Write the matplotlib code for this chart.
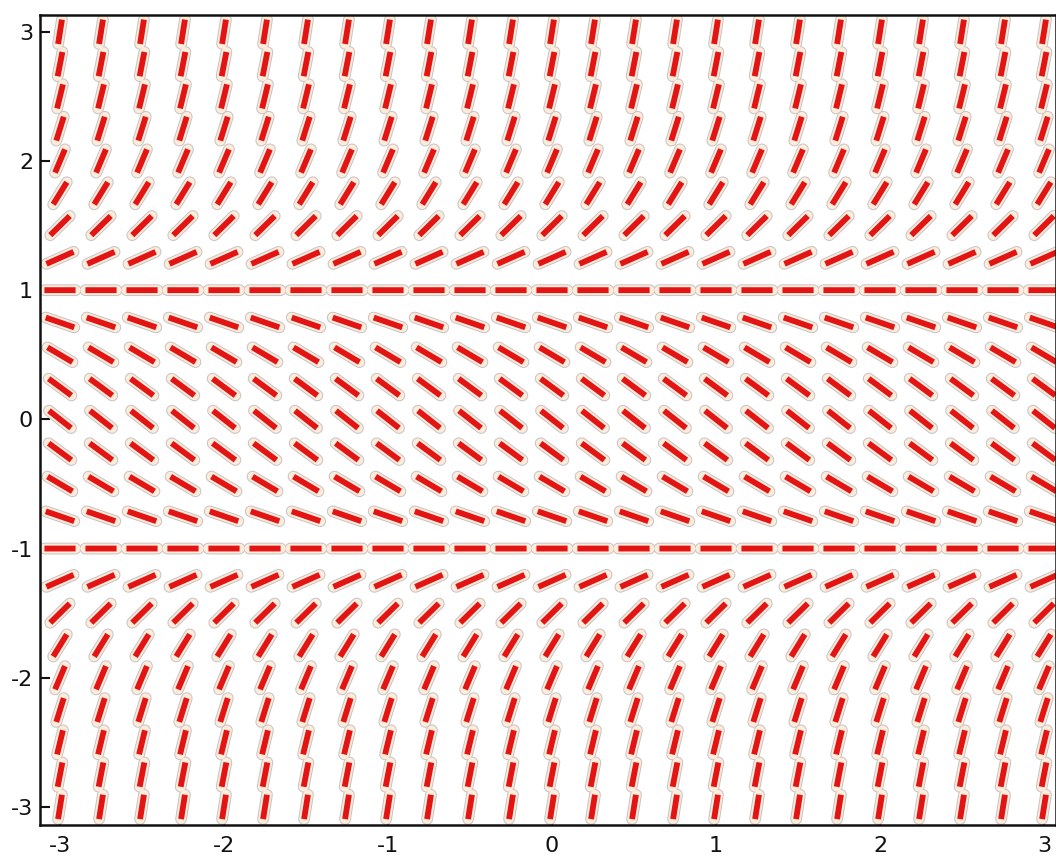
import numpy as np
import matplotlib
matplotlib.use("Agg")
import matplotlib.pyplot as plt
from matplotlib.collections import LineCollection

# === Campo de direcoes: dy/dx = y^2 - 1 ===
x_vals = np.arange(-3, 3.001, 0.25)
y_vals = np.arange(-3, 3.001, 0.25)
x_ticks = [-3, -2, -1, 0, 1, 2, 3]
y_ticks = [-3, -2, -1, 0, 1, 2, 3]
seg_len = 0.19  # comprimento do segmento em unidades de dados


def slope(x, y):
    return y ** 2 - 1


segs = []
for xv in x_vals:
    for yv in y_vals:
        m = slope(xv, yv)
        dx = seg_len / 2 / np.sqrt(1 + m ** 2)
        dy = m * dx
        segs.append([(xv - dx, yv - dy), (xv + dx, yv + dy)])

fig = plt.figure(figsize=(10.56, 8.63), dpi=100)
ax = fig.add_axes([40 / 1056, 38 / 863, 1 - 40 / 1056, (825 - 15) / 863])

# halo cinza, halo creme e linha vermelha (imita o contorno da imagem)
for color, lw, cap in [("#c9c4c4", 8.5, "round"), ("#fcecdc", 7.0, "round"),
                       ("#e31414", 4.2, "butt")]:
    lc = LineCollection(segs, colors=color, linewidths=lw, capstyle=cap)
    lc.set_snap(False)
    ax.add_collection(lc)

ax.set_xlim(-3.122, 3.073)
ax.set_ylim(-3.14, 3.13)
ax.set_xticks(x_ticks)
ax.set_yticks(y_ticks)
ax.set_xticklabels([str(t) for t in x_ticks])
ax.set_yticklabels([str(t) for t in y_ticks])
ax.tick_params(direction="in", length=7, width=1.5, labelsize=16, colors="#111111")
ax.tick_params(axis="x", pad=8)
ax.tick_params(axis="y", pad=5)
for s in ax.spines.values():
    s.set_linewidth(1.8)
    s.set_color("#111111")

fig.savefig("out.png", dpi=100)
